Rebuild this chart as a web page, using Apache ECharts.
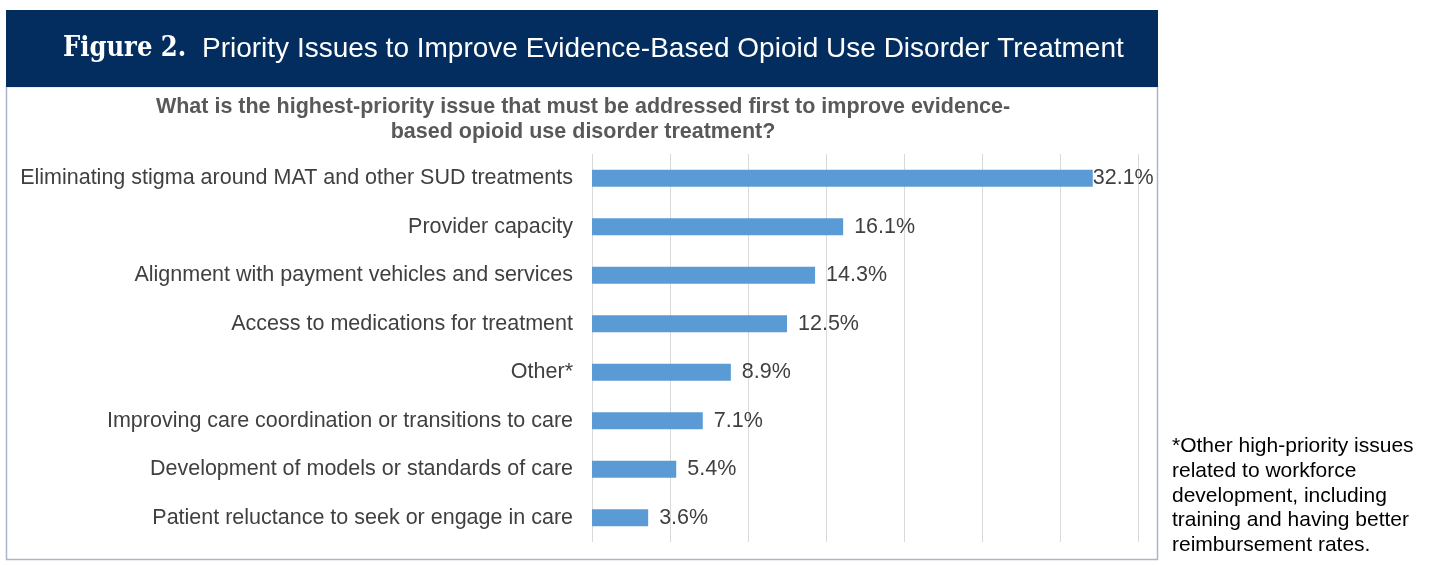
<!DOCTYPE html>
<html>
<head>
<meta charset="utf-8">
<script src="https://cdn.jsdelivr.net/npm/echarts@6/dist/echarts.min.js"></script>
<style>
html,body{margin:0;padding:0;background:#fff;}
#chart{width:1455px;height:565px;}
</style>
</head>
<body>
<div id="chart"></div>
<script>
const categories = [
  "Eliminating stigma around MAT and other SUD treatments",
  "Provider capacity",
  "Alignment with payment vehicles and services",
  "Access to medications for treatment",
  "Other*",
  "Improving care coordination or transitions to care",
  "Development of models or standards of care",
  "Patient reluctance to seek or engage in care"
];
const values = [32.1, 16.1, 14.3, 12.5, 8.9, 7.1, 5.4, 3.6];
const axisMin = 0, axisMax = 35, axisInterval = 5;
const figureLabel = "Figure 2.";
const figureTitle = "Priority Issues to Improve Evidence-Based Opioid Use Disorder Treatment";
const chartTitle = "What is the highest-priority issue that must be addressed first to improve evidence-\nbased opioid use disorder treatment?";
const footnote = "*Other high-priority issues\nrelated to workforce\ndevelopment, including\ntraining and having better\nreimbursement rates.";

const chart = echarts.init(document.getElementById('chart'), null, {renderer: 'canvas'});
const font = "'Liberation Sans', Arial, sans-serif";
chart.setOption({
  animation: false,
  backgroundColor: '#ffffff',
  title: {
    text: chartTitle,
    left: 578, top: 90, textAlign: 'center',
    textStyle: {fontFamily: font, fontSize: 21.5, fontWeight: 'bold', color: '#595959', lineHeight: 25}
  },
  grid: {left: 592, right: 317, top: 154, bottom: 23, containLabel: false},
  xAxis: {
    type: 'value', min: axisMin, max: axisMax, interval: axisInterval,
    axisLabel: {show: false}, axisLine: {show: false}, axisTick: {show: false},
    splitLine: {lineStyle: {color: '#d9d9d9', width: 1}}
  },
  yAxis: {
    type: 'category', data: categories, inverse: true,
    axisLine: {show: false}, axisTick: {show: false},
    axisLabel: {fontFamily: font, fontSize: 21.5, color: '#404040', margin: 19}
  },
  series: [{
    type: 'bar',
    data: values.map((v, i) => i === 0 ? {value: v, label: {distance: 0}} : v),
    barWidth: 17,
    itemStyle: {color: '#5b9bd5'},
    label: {
      show: true, position: 'right', distance: 11,
      fontFamily: font, fontSize: 21.5, color: '#404040',
      formatter: p => p.value.toFixed(1) + '%'
    }
  }],
  graphic: [
    {type: 'rect', shape: {x: 6.5, y: 86.5, width: 1151, height: 473}, style: {fill: 'none', stroke: '#a8b7cc', lineWidth: 1.5}, z: -1},
    {type: 'rect', shape: {x: 6, y: 10, width: 1152, height: 77}, style: {fill: '#022d5e'}},
    {type: 'text', x: 63, y: 49, style: {text: figureLabel, fill: '#fff', font: "900 27px 'DejaVu Serif Condensed', 'DejaVu Serif', serif", textVerticalAlign: 'middle'}},
    {type: 'text', x: 202, y: 49, style: {text: figureTitle, fill: '#fff', font: "28px 'Liberation Sans', Arial, sans-serif", textVerticalAlign: 'middle'}},
    {type: 'text', x: 1172, y: 434, style: {text: footnote, fill: '#000', font: "21px 'Liberation Sans', Arial, sans-serif", lineHeight: 24.7}}
  ]
});
</script>
</body>
</html>
